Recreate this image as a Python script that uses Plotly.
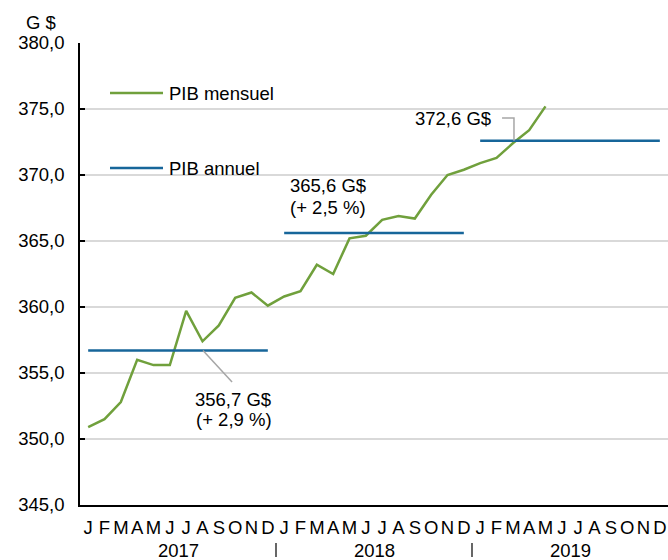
import plotly.graph_objects as go

months = ["J", "F", "M", "A", "M", "J", "J", "A", "S", "O", "N", "D"] * 3
years = ["2017", "2018", "2019"]
pib_mensuel = [350.9, 351.5, 352.8, 356.0, 355.6, 355.6, 359.7, 357.4, 358.6, 360.7, 361.1, 360.1,
               360.8, 361.2, 363.2, 362.5, 365.2, 365.4, 366.6, 366.9, 366.7, 368.5, 370.0, 370.4,
               370.9, 371.3, 372.4, 373.4, 375.2]
pib_annuel = [356.7, 365.6, 372.6]
croissance = ["+ 2,9 %", "+ 2,5 %"]

GREEN = "#70A03C"
BLUE = "#17669A"
GRAY = "#A6A6A6"
FONT = "Liberation Sans, Arial, sans-serif"
FS = 18.5

fig = go.Figure()

fig.add_trace(go.Scatter(
    x=list(range(len(pib_mensuel))), y=pib_mensuel, mode="lines",
    line=dict(color=GREEN, width=2.5), name="PIB mensuel", showlegend=False,
    hoverinfo="skip"))

for i, v in enumerate(pib_annuel):
    fig.add_trace(go.Scatter(
        x=[12 * i, 12 * i + 11], y=[v, v], mode="lines",
        line=dict(color=BLUE, width=2.5), name="PIB annuel", showlegend=False,
        hoverinfo="skip"))

annotations = []
shapes = []


def fmt(v):
    return f"{v:.1f}".replace(".", ",")


def txt(x, y, t, xanchor="left", xref="x", yref="y"):
    annotations.append(dict(x=x, y=y, xref=xref, yref=yref, text=t, showarrow=False,
                            xanchor=xanchor, yanchor="middle",
                            font=dict(size=FS, color="#000", family=FONT)))


# 2017 label with leader line
txt(6.42, 352.99, f"{fmt(pib_annuel[0])} G$")
txt(6.45, 351.44, f"({croissance[0]})")
shapes.append(dict(type="line", xref="x", yref="y", x0=7.03, y0=pib_annuel[0],
                   x1=8.81, y1=354.32, line=dict(color=GRAY, width=1.5)))
# 2018 label
txt(12.23, 369.2, f"{fmt(pib_annuel[1])} G$")
txt(12.23, 367.54, f"({croissance[1]})")
# 2019 label with elbow leader
txt(24.79, 374.28, f"{fmt(pib_annuel[2])} G$", xanchor="right")
shapes.append(dict(type="path", xref="x", yref="y",
                   path=f"M 25.34 374.32 L 26.07 374.32 L 26.07 {pib_annuel[2]}",
                   line=dict(color=GRAY, width=1.5)))

# Legend (manual)
for ypx, col, lab in [(93, GREEN, "PIB mensuel"), (168, BLUE, "PIB annuel")]:
    yp = (505 - ypx) / 462
    shapes.append(dict(type="line", xref="paper", yref="paper", x0=(110 - 80) / 588,
                       x1=(163 - 80) / 588, y0=yp, y1=yp, line=dict(color=col, width=2.5)))
    txt((167 - 80) / 588, yp, lab, xref="paper", yref="paper")

# Y unit label
txt((41 - 80) / 588, (505 - 22) / 462, "G $", xanchor="center", xref="paper", yref="paper")

# Year labels and separators
for i, yr in enumerate(years):
    txt(12 * i + 5.5, -(550 - 505) / 462, yr, xanchor="center", yref="paper")
for i in range(1, 3):
    shapes.append(dict(type="line", xref="x", yref="paper", x0=12 * i - 0.5, x1=12 * i - 0.5,
                       y0=-(543 - 505) / 462, y1=-(557 - 505) / 462,
                       line=dict(color="#000", width=1.2)))

fig.update_layout(
    width=668, height=560,
    margin=dict(l=80, r=0, t=43, b=55, autoexpand=False),
    paper_bgcolor="white", plot_bgcolor="white",
    separators=", ",
    font=dict(family=FONT, size=FS, color="#000"),
    showlegend=False,
    annotations=annotations, shapes=shapes,
    xaxis=dict(range=[-0.5, 35.5], tickmode="array", tickvals=list(range(36)), ticktext=months,
               showgrid=False, zeroline=False, showline=True, linecolor="#000", linewidth=1.5,
               ticks="", tickangle=0, automargin=False, ticklabelstandoff=5,
               tickfont=dict(size=FS, family=FONT, color="#000")),
    yaxis=dict(range=[345, 380], dtick=5, tick0=345, tickformat=".1f",
               showgrid=True, gridcolor="#D9D9D9", gridwidth=1.5, zeroline=False,
               showline=True, linecolor="#000", linewidth=1.5,
               ticks="inside", ticklen=5, tickcolor="#000", tickwidth=1.5,
               automargin=False, ticklabelstandoff=10,
               tickfont=dict(size=FS, family=FONT, color="#000")),
)

fig.write_html("out.html", config={"displayModeBar": False},
               post_script="document.body.style.margin='0';document.body.style.overflow='hidden';")
